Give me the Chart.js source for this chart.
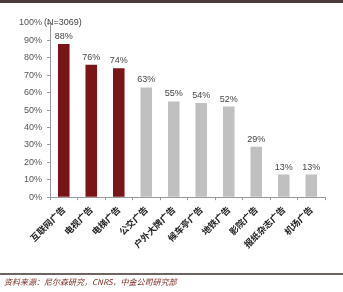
<!DOCTYPE html>
<html>
<head>
<meta charset="utf-8">
<script src="https://cdn.jsdelivr.net/npm/chart.js@4/dist/chart.umd.min.js"></script>
<style>
  html, body { margin: 0; padding: 0; background: #fff; }
  #wrap { width: 343px; height: 292px; position: relative; }
</style>
</head>
<body>
<div id="wrap"><canvas id="adChart" width="343" height="292"></canvas></div>
<script>
const categories = ['互联网广告', '电视广告', '电梯广告', '公交广告', '户外大牌广告', '候车亭广告', '地铁广告', '影院广告', '报纸杂志广告', '机场广告'];
const shares = [88, 76, 74, 63, 55, 54, 52, 29, 13, 13];
const highlighted = [true, true, true, false, false, false, false, false, false, false];
const yTicks = [0, 10, 20, 30, 40, 50, 60, 70, 80, 90, 100];
const sampleNote = '(N=3069)';
const sourceNote = '资料来源：尼尔森研究，CNRS，中金公司研究部';

const cjk = '"Noto Sans CJK SC", "Noto Sans", sans-serif';

// labels above bars, N note, frame lines and footer
const extras = {
    id: 'extras',
    afterDatasetsDraw(chart) {
        const c = chart.ctx;
        const meta = chart.getDatasetMeta(0);
        c.save();
        c.fillStyle = '#444';
        c.font = '9px "Liberation Sans", Arial, sans-serif';
        c.textAlign = 'center';
        c.textBaseline = 'bottom';
        meta.data.forEach((bar, i) => {
            c.fillText(shares[i] + '%', bar.x, bar.y - 3);
        });
        const y = chart.scales.y;
        c.textAlign = 'left';
        c.textBaseline = 'middle';
        c.fillText(sampleNote, y.right - 6, y.getPixelForValue(100));

        c.fillStyle = '#4a3a38';
        c.fillRect(0, 0, 343, 3);
        c.fillStyle = '#6e6462';
        c.fillRect(0, 273, 343, 2);
        c.fillStyle = '#7a2a20';
        c.font = 'italic 8px ' + cjk;
        c.textBaseline = 'middle';
        c.fillText(sourceNote, 4, 282);
        c.restore();
    }
};

new Chart(document.getElementById('adChart').getContext('2d'), {
    type: 'bar',
    data: {
        labels: categories,
        datasets: [{
            data: shares,
            backgroundColor: highlighted.map(h => h ? '#7a1517' : '#c0c0c0'),
            barPercentage: 0.84,
            categoryPercentage: 0.5
        }]
    },
    options: {
        responsive: false,
        animation: false,
        layout: { padding: { left: 14, right: 18, top: 23, bottom: 38 } },
        plugins: { legend: { display: false }, tooltip: { enabled: false } },
        scales: {
            x: {
                grid: { display: true, drawOnChartArea: false, tickLength: 3, color: '#999', offset: true },
                border: { color: '#999' },
                ticks: {
                    color: '#222',
                    font: { family: cjk, size: 9, weight: 'bold' },
                    maxRotation: 45,
                    minRotation: 45,
                    padding: 4
                }
            },
            y: {
                min: 0,
                max: 100,
                afterBuildTicks(axis) { axis.ticks = yTicks.map(v => ({ value: v })); },
                grid: { display: true, drawOnChartArea: false, tickLength: 3, color: '#999' },
                border: { color: '#999' },
                ticks: {
                    color: '#555',
                    font: { family: '"Liberation Sans", Arial, sans-serif', size: 9 },
                    padding: 5,
                    callback: v => v + '%'
                }
            }
        }
    },
    plugins: [extras]
});
</script>
</body>
</html>
